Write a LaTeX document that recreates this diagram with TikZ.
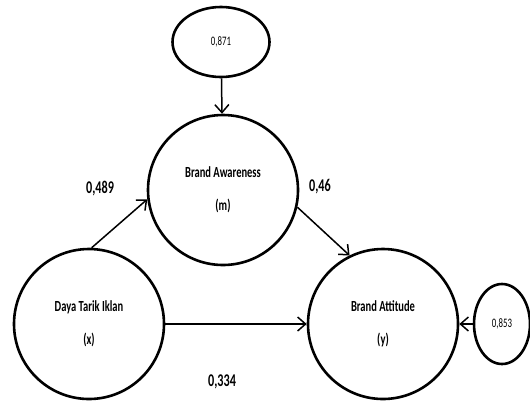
\documentclass[tikz,border=0pt]{standalone}
\usepackage{fontspec}
\setmainfont{Carlito}[FakeStretch=0.68]
\usetikzlibrary{arrows.meta,shapes.geometric}

\begin{document}
\begin{tikzpicture}[x=1bp,y=-1bp,
	latent/.style={draw, circle, line width=2.6bp, minimum size=150bp, inner sep=0pt, align=center, font=\fontsize{15.5}{33}\selectfont\bfseries},
	resid/.style={draw, ellipse, line width=2.6bp, inner sep=0pt, font=\fontsize{13}{14}\selectfont},
	effect/.style={line width=1.5bp, -{Straight Barb[length=8bp,width=14bp]}},
	coef/.style={font=\fontsize{18}{19}\selectfont\bfseries}]
	\useasboundingbox (0,0) rectangle (530,409);
	
	% constructs
	\node[latent] (m) at (223,190) {Brand Awareness\\(m)};
	\node[latent] (x) at (89,324) {Daya Tarik Iklan\\(x)};
	\node[latent] (y) at (383,324) {Brand Attitude\\(y)};
	
	% residuals
	\node[resid, minimum width=97bp, minimum height=70bp] (em) at (221,42) {0,871};
	\node[resid, minimum width=56bp, minimum height=80bp] (ey) at (502,324) {0,853};
	
	% paths
	\draw[effect] (em) -- (m);
	\draw[effect] (x.88) -- (m.187);
	\draw[effect] (m.347) -- (y.116);
	\draw[effect] (x.east) -- (y.west);
	\draw[effect] (ey.west) -- (y.east);
	
	% coefficients
	\node[coef] (c1) at (100,189) {0,489};
	\node[coef] (c2) at (320,187) {0,46};
	\node[coef] (c3) at (222,382) {0,334};
\end{tikzpicture}
\end{document}
